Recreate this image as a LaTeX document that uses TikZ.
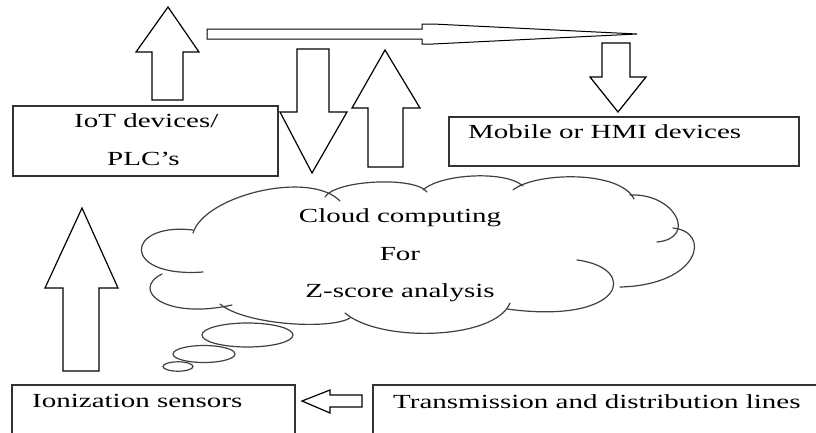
\documentclass[tikz,border=0pt]{standalone}
\usepackage{fontspec}
\setmainfont{Liberation Serif}
\newfontfamily\widefont[FakeStretch=1.45]{Liberation Serif}
\begin{document}
\begin{tikzpicture}[x=1pt,y=-1pt,
  boxnode/.style={draw=black!80, line width=1.5pt, inner sep=0pt, outer sep=0pt, anchor=north west},
  blockarrow/.style={draw=black, line width=1.2pt, fill=white, line join=miter},
  cloudline/.style={draw=black!75, line width=1.2pt, line cap=round},
  lbl/.style={font=\widefont\fontsize{20}{24}\selectfont, inner sep=0pt, anchor=base west},
  clbl/.style={font=\widefont\fontsize{20}{24}\selectfont, inner sep=0pt, anchor=base}]
\useasboundingbox (0,0) rectangle (816,432);
\fill[white] (0,0) rectangle (816,432);

% boxes
\node[boxnode, minimum width=265pt, minimum height=70pt] (iot) at (13,106) {};
\node[boxnode, minimum width=350pt, minimum height=49pt] (mob) at (449,117) {};
\node[boxnode, minimum width=283pt, minimum height=60pt] (ion) at (12,385) {};
\node[boxnode, minimum width=460pt, minimum height=60pt] (trans) at (373,385) {};

% texts
\node[lbl] (t1) at (74,127) {IoT devices/};
\node[lbl] (t2) at (107,165) {PLC’s};
\node[lbl] (t3) at (468,138) {Mobile or HMI devices};
\node[lbl] (t4) at (32,407) {Ionization sensors};
\node[lbl] (t5) at (393,408) {Transmission and distribution lines};

% cloud
\draw[cloudline] (193,233) .. controls (205,195) and (310,170) .. (340,201); % A
\draw[cloudline] (325,197) .. controls (335,180) and (415,176) .. (427,192); % B
\draw[cloudline] (423,190) .. controls (440,174) and (505,170) .. (523,186); % C
\draw[cloudline] (513,190) .. controls (535,172) and (620,170) .. (634,199); % D
\draw[cloudline] (630,195) .. controls (675,193) and (698,238) .. (657,242); % E
\draw[cloudline] (673,228) .. controls (712,232) and (700,285) .. (620,287); % F
\draw[cloudline] (577,260) .. controls (640,268) and (625,325) .. (507,309); % G
\draw[cloudline] (510,303) .. controls (495,340) and (380,343) .. (345,313); % H
\draw[cloudline] (350,318) .. controls (330,330) and (245,325) .. (220,304); % I
\draw[cloudline] (232,305) .. controls (165,320) and (130,290) .. (162,274); % J
\draw[cloudline] (193,230) .. controls (125,222) and (120,278) .. (203,272); % K
\node[clbl] (c1) at (400,222) {Cloud computing};
\node[clbl] (c2) at (400,260) {For};
\node[clbl] (c3) at (400,297) {Z-score analysis};

% thought bubbles
\draw[cloudline] (247.5,335) ellipse [x radius=45.5, y radius=12];
\draw[cloudline] (204,354) ellipse [x radius=31, y radius=8.5];
\draw[cloudline] (178,366.5) ellipse [x radius=15, y radius=4.7];

% block arrows
\draw[blockarrow] (168,7) -- (199,52) -- (183,52) -- (183,100) -- (152,100) -- (152,52) -- (136,52) -- cycle;
\draw[blockarrow] (312,173) -- (347,112) -- (329,112) -- (329,49) -- (297,49) -- (297,112) -- (280,112) -- cycle;
\draw[blockarrow] (385,50) -- (420,108) -- (403,108) -- (403,167) -- (368,167) -- (368,108) -- (352,108) -- cycle;
\draw[blockarrow, line width=1pt] (207,29) -- (422,29) -- (422,24) -- (433,24) -- (637,34) -- (433,44) -- (422,44) -- (422,39) -- (207,39) -- cycle;
\draw[blockarrow] (618,112) -- (646,77) -- (630,77) -- (630,43) -- (602,43) -- (602,77) -- (590,77) -- cycle;
\draw[blockarrow] (82,208) -- (118,288) -- (99,288) -- (99,371) -- (63,371) -- (63,288) -- (45,288) -- cycle;
\draw[blockarrow] (302,401) -- (330,390) -- (330,395) -- (362,395) -- (362,407) -- (330,407) -- (330,413) -- cycle;
\end{tikzpicture}
\end{document}
